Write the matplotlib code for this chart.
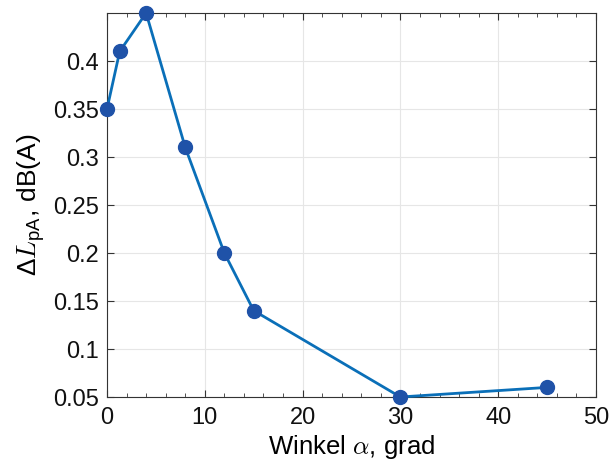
import matplotlib.pyplot as plt
from matplotlib.ticker import MultipleLocator

plt.rcParams['font.family'] = ['Liberation Sans', 'DejaVu Sans']
plt.rcParams['mathtext.fontset'] = 'custom'
plt.rcParams['mathtext.rm'] = 'Liberation Sans'
plt.rcParams['mathtext.it'] = 'cmmi10'

# data
winkel = [0, 1.3, 4, 8, 12, 15, 30, 45]
delta_lpa = [0.35, 0.41, 0.45, 0.31, 0.20, 0.14, 0.05, 0.06]

fig = plt.figure(figsize=(6.09, 4.63), dpi=100)
ax = fig.add_axes([107 / 609, 66 / 463, 489 / 609, 384 / 463])

ax.plot(winkel, delta_lpa, color='#0a6fb8', lw=2, marker='o', ms=10,
        markerfacecolor='#1f52a8', markeredgecolor='#1f52a8', clip_on=False, zorder=3)

ax.set_xlim(0, 50)
ax.set_ylim(0.05, 0.45)
ax.set_xticks([0, 10, 20, 30, 40, 50])
ax.set_yticks([0.05, 0.1, 0.15, 0.2, 0.25, 0.3, 0.35, 0.4])
ax.set_yticklabels(['0.05', '0.1', '0.15', '0.2', '0.25', '0.3', '0.35', '0.4'])
ax.xaxis.set_minor_locator(MultipleLocator(2))

ax.grid(True, color='#e6e6e6', lw=0.8)
ax.set_axisbelow(True)
ax.tick_params(which='both', direction='in', top=True, right=True,
               labelsize=17, colors='#333333', labelcolor='#111111')
ax.tick_params(which='major', length=5)
ax.tick_params(which='minor', length=3)
ax.tick_params(axis='x', pad=7)
ax.tick_params(axis='y', pad=6)
for s in ax.spines.values():
    s.set_color('#333333')
    s.set_linewidth(0.8)

ax.set_xlabel(r'Winkel $\alpha$, grad', fontsize=18.5, labelpad=3)
ax.set_ylabel(r'$\Delta L_{\mathrm{pA}}$, dB(A)', fontsize=19, labelpad=4)

fig.savefig('out.png', dpi=100)
